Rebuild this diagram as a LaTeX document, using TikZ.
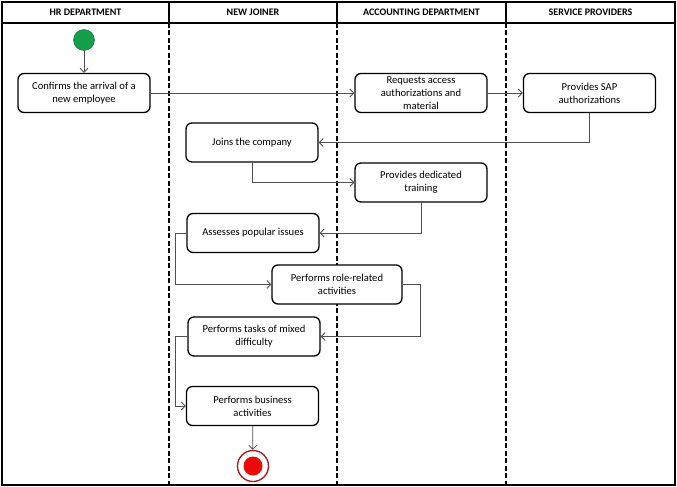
\documentclass[tikz,border=0pt]{standalone}
\usepackage{fontspec}
\setmainfont{Carlito}
\usetikzlibrary{arrows.meta}

\definecolor{startgreen}{RGB}{20,160,75}
\definecolor{endred}{RGB}{235,10,10}
\definecolor{ringred}{RGB}{170,20,20}
\definecolor{flowgray}{RGB}{80,80,80}

\tikzset{
  activity/.style={draw=black, fill=white, line width=1.3pt, rounded corners=6pt,
    minimum width=132pt, minimum height=39pt, align=center,
    font=\fontsize{10.6}{13}\selectfont, inner sep=1pt},
  header/.style={font=\fontsize{10}{12}\selectfont\bfseries},
  lane/.style={line width=1.8pt, dash pattern=on 5pt off 2.5pt},
  flow/.style={draw=flowgray, line width=0.8pt, -{Straight Barb[length=4pt,width=8pt]}}
}

\begin{document}
\begin{tikzpicture}[x=1pt,y=-1pt]
    \useasboundingbox (0,0) rectangle (677,487);

    % frame and swimlanes
    \draw[line width=1.6pt] (2,2) rectangle (675,485);
    \draw[line width=1.3pt] (2,23) -- (675,23);
    \draw[line width=1.3pt] (169,2) -- (169,23);
    \draw[line width=1.3pt] (337,2) -- (337,23);
    \draw[line width=1.3pt] (506,2) -- (506,23);
    \draw[lane] (169,23) -- (169,485);
    \draw[lane] (337,23) -- (337,485);
    \draw[lane] (506,23) -- (506,485);

    \node[header] (hr) at (85.5,12.5) {HR DEPARTMENT};
    \node[header] (nj) at (253,12.5) {NEW JOINER};
    \node[header] (acc) at (421.5,12.5) {ACCOUNTING DEPARTMENT};
    \node[header] (sp) at (590.5,12.5) {SERVICE PROVIDERS};

    % activities
    \node[circle, fill=startgreen, draw=startgreen!60!black, minimum size=21pt, inner sep=0pt] (start) at (84,40) {};
    \node[activity] (confirm) at (84,93) {Confirms the arrival of a\\new employee};
    \node[activity] (request) at (421,93) {Requests access\\authorizations and\\material};
    \node[activity] (sap) at (589.5,93) {Provides SAP\\authorizations};
    \node[activity] (join) at (252,142.5) {Joins the company};
    \node[activity] (train) at (421,182.5) {Provides dedicated\\training};
    \node[activity] (assess) at (253,233) {Assesses popular issues};
    \node[activity, minimum width=130pt] (role) at (337,284.5) {Performs role-related\\activities};
    \node[activity] (mixed) at (254,336.5) {Performs tasks of mixed\\difficulty};
    \node[activity] (business) at (252.5,406) {Performs business\\activities};
    \node[circle, fill=white, draw=ringred, line width=1.3pt, minimum size=31pt, inner sep=0pt] (end) at (253,466) {};
    \node[circle, fill=endred, minimum size=19pt, inner sep=0pt] (endin) at (end.center) {};

    % flows
    \draw[flow] (start) -- (confirm);
    \draw[flow] (confirm) -- (request);
    \draw[flow] (request) -- (sap);
    \draw[flow] (sap.south) |- (join.east);
    \draw[flow] (join.south) |- (train.west);
    \draw[flow] (train.south) |- (assess.east);
    \draw[flow] (assess.west) -- ++(-11,0) |- (role.west);
    \draw[flow] (role.east) -- ++(18,0) |- (mixed.east);
    \draw[flow] (mixed.west) -- ++(-12,0) |- (business.west);
    \draw[flow] (business) -- (end);
  \end{tikzpicture}
\end{document}
